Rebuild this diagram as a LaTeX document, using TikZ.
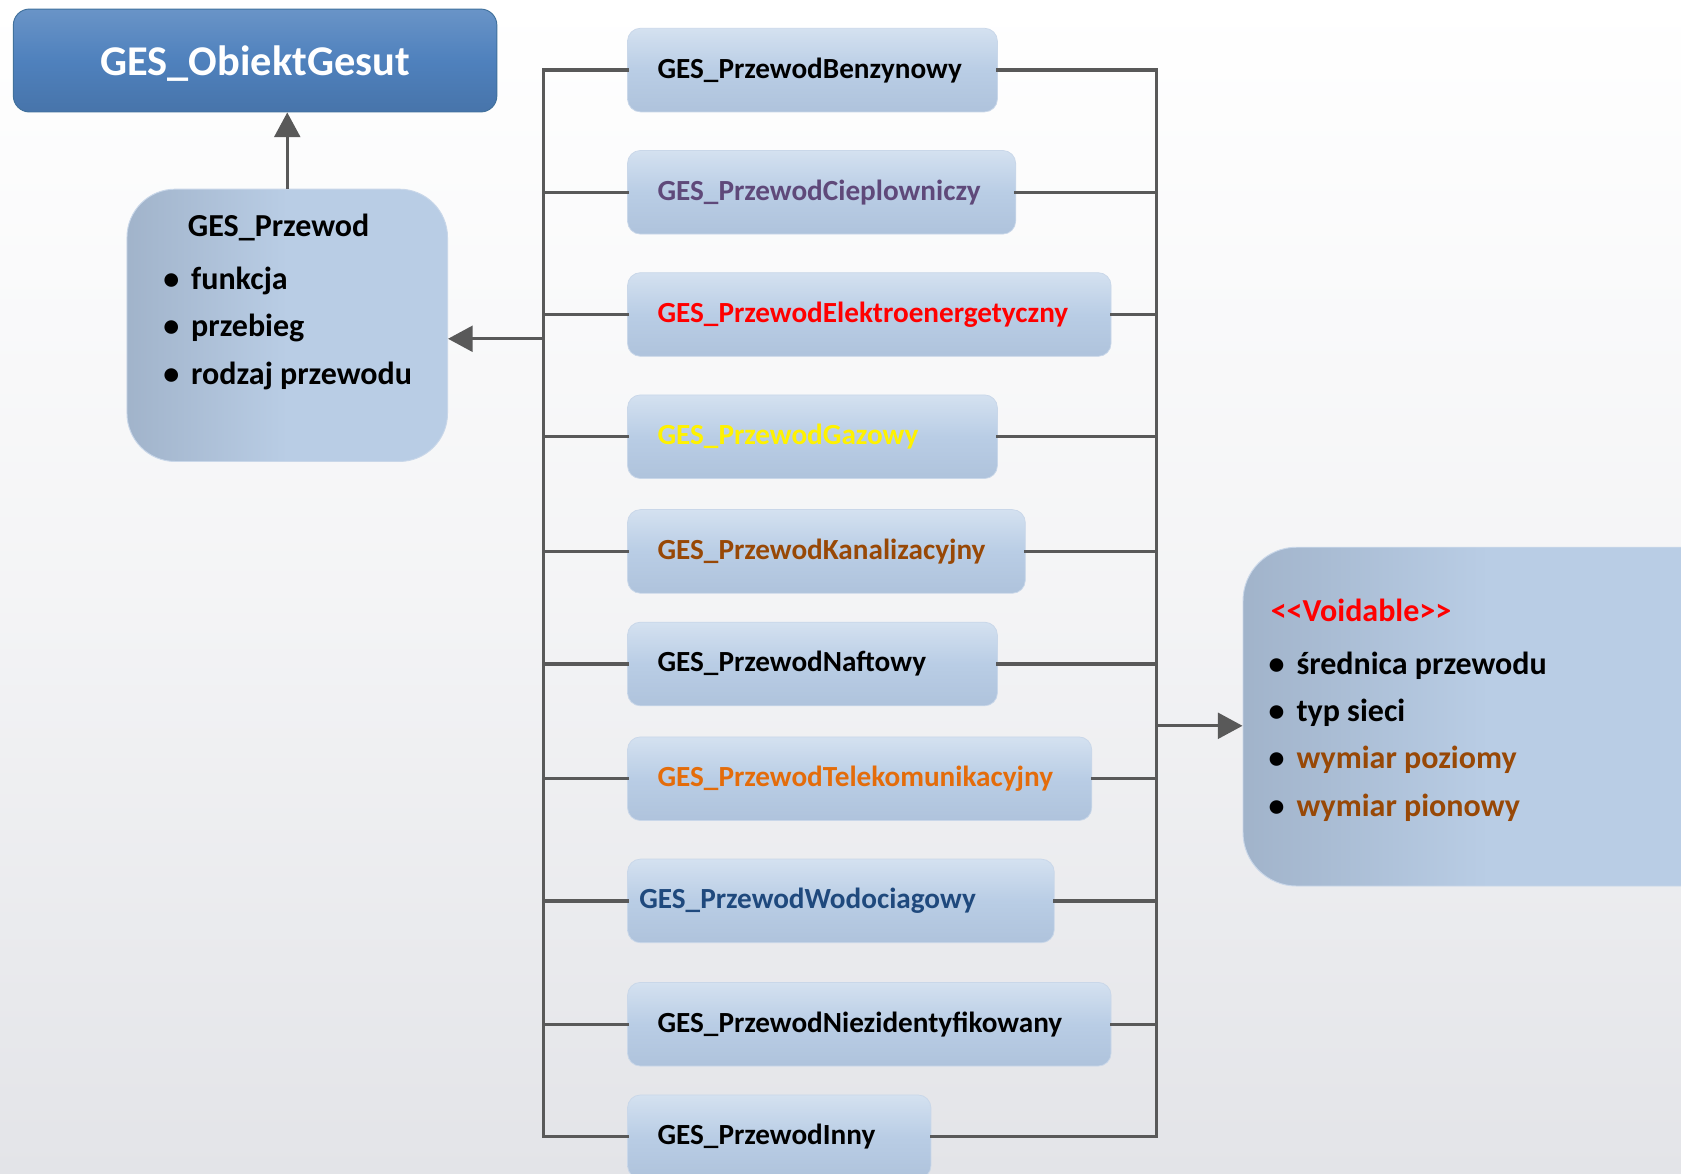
\documentclass[tikz,border=0pt]{standalone}
\usepackage{fontspec}
\setmainfont{Carlito}[Ligatures=TeXOff]
\usetikzlibrary{positioning,arrows.meta}

\definecolor{topblue}{HTML}{4F81BD}
\definecolor{topedge}{HTML}{41719C}
\definecolor{boxfill}{HTML}{B9CDE5}
\definecolor{boxlight}{HTML}{D4E1F0}
\definecolor{boxdark}{HTML}{AFC3DC}
\definecolor{boxedge}{HTML}{C9D7E9}
\definecolor{lineg}{HTML}{595959}
\definecolor{bgbot}{HTML}{E3E4E8}
\definecolor{ciepcol}{HTML}{5F497A}
\definecolor{kancol}{HTML}{984806}
\definecolor{telecol}{HTML}{E46C0A}
\definecolor{wodcol}{HTML}{1F497D}

\newcommand{\itm}{\makebox[5.2mm][l]{•}}

\begin{document}
\begin{tikzpicture}[x=0.2mm,y=-0.2mm,
  topcls/.style={draw=topedge,line width=0.5pt,rounded corners=3mm,top color=topblue!85!white,bottom color=topblue!90!black,middle color=topblue,
    text=white,anchor=north west,font=\bfseries\fontsize{22.5}{26}\selectfont},
  cls/.style={draw=boxedge,line width=0.5pt,rounded corners=9mm,left color=boxdark!92!black,right color=boxfill,middle color=boxfill,anchor=north west},
  sub/.style={draw=boxedge,line width=0.4pt,rounded corners=2.4mm,top color=boxlight,bottom color=boxdark,middle color=boxfill,
    minimum height=15.6mm,inner xsep=5.6mm,inner ysep=0pt,align=left,anchor=north west,
    font=\bfseries\fontsize{15.5}{18}\selectfont,execute at begin node={\hyphenpenalty=10000\relax}},
  attr/.style={align=left,inner sep=0pt,anchor=north west,font=\bfseries\fontsize{17}{25}\selectfont},
  bus/.style={draw=lineg,line width=0.6mm,line cap=rect},
  arr/.style={draw=lineg,line width=0.6mm,-{Triangle[length=4.6mm,width=4.8mm]}}]
\useasboundingbox (0,0) rectangle (1568,1095);
\clip (0,0) rectangle (1568,1095);
\shade[top color=white,bottom color=bgbot,middle color=white!60!bgbot] (0,0) rectangle (1568,1095);

% base classes
\node[topcls,minimum width=90.2mm,minimum height=19.2mm,text depth=0pt] (obiekt) at (12,8) {GES\_ObiektGesut};
\node[cls,minimum width=59.8mm,minimum height=50.8mm] (przewod) at (118,176) {};
\node[cls,rounded corners=10mm,minimum width=92mm,minimum height=63.2mm] (voidable) at (1159,510) {};

% subclasses
\node[sub,text width=57.8mm] (benz) at (585,26) {GES\_PrzewodBenzynowy};
\node[sub,text width=61.2mm,text=ciepcol] (ciep) at (585,140) {GES\_PrzewodCieplowniczy};
\node[sub,text width=79mm,text=red] (elek) at (585,254) {GES\_PrzewodElektroenergetyczny};
\node[sub,text width=57.8mm,text=yellow] (gaz) at (585,368) {GES\_PrzewodGazowy};
\node[sub,text width=63mm,text=kancol] (kan) at (585,475) {GES\_PrzewodKanalizacyjny};
\node[sub,text width=57.8mm] (naft) at (585,580) {GES\_PrzewodNaftowy};
\node[sub,text width=75.4mm,text=telecol] (tele) at (585,687) {GES\_PrzewodTelekomunikacyjny};
\node[sub,text width=75.2mm,inner xsep=2.2mm,text=wodcol] (wod) at (585,801) {GES\_PrzewodWodociagowy};
\node[sub,text width=79mm] (niez) at (585,916) {GES\_PrzewodNiezidentyfikowany};
\node[sub,text width=45.4mm] (inny) at (585,1021) {GES\_PrzewodInny};

\coordinate (lx) at (507,0);
\coordinate (rx) at (1079,0);
\coordinate (lj) at (507,316);
\coordinate (rj) at (1079,677);

% buses
\draw[bus] (benz.west -| lx) -- (inny.west -| lx);
\draw[bus] (benz.east -| rx) -- (inny.east -| rx);
\draw[bus] (benz.west) -- (benz.west -| lx) (benz.east) -- (benz.east -| rx);
\draw[bus] (ciep.west) -- (ciep.west -| lx) (ciep.east) -- (ciep.east -| rx);
\draw[bus] (elek.west) -- (elek.west -| lx) (elek.east) -- (elek.east -| rx);
\draw[bus] (gaz.west) -- (gaz.west -| lx) (gaz.east) -- (gaz.east -| rx);
\draw[bus] (kan.west) -- (kan.west -| lx) (kan.east) -- (kan.east -| rx);
\draw[bus] (naft.west) -- (naft.west -| lx) (naft.east) -- (naft.east -| rx);
\draw[bus] (tele.west) -- (tele.west -| lx) (tele.east) -- (tele.east -| rx);
\draw[bus] (wod.west) -- (wod.west -| lx) (wod.east) -- (wod.east -| rx);
\draw[bus] (niez.west) -- (niez.west -| lx) (niez.east) -- (niez.east -| rx);
\draw[bus] (inny.west) -- (inny.west -| lx) (inny.east) -- (inny.east -| rx);

% arrows
\draw[arr] (przewod.north) -- (przewod.north |- obiekt.south);
\draw[arr] (lj) -- (lj -| przewod.east);
\draw[arr] (rj) -- (rj -| voidable.west);

% attributes
\node[attr] (przewodAttr) at (152,199) {\hspace*{4.6mm}GES\_Przewod\\[3.5pt]
  \itm funkcja\\ \itm przebieg\\ \itm rodzaj przewodu};
\node[attr] (voidAttr) at (1183,558) {\hspace*{0.4mm}\textcolor{red}{<<Voidable>>}\\[3.5pt]
  \itm średnica przewodu\\ \itm typ sieci\\
  \itm\textcolor{kancol}{wymiar poziomy}\\ \itm\textcolor{kancol}{wymiar pionowy}};
\end{tikzpicture}
\end{document}
